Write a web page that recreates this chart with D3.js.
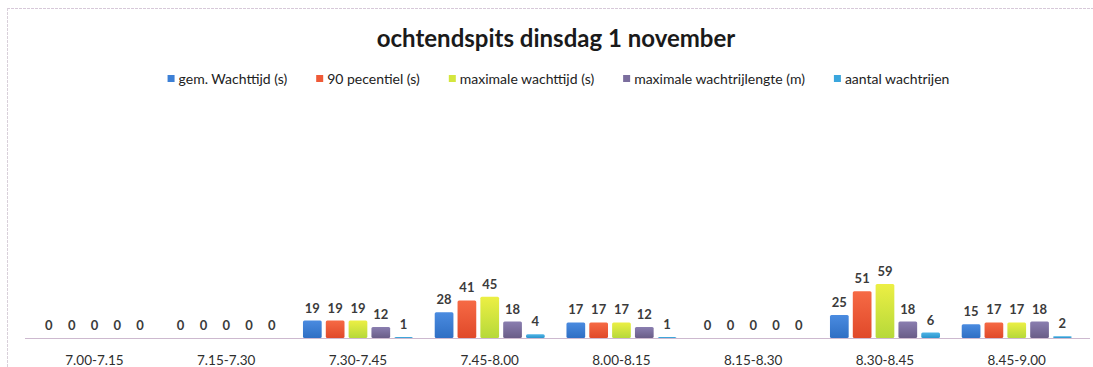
<!DOCTYPE html>
<html>
<head>
<meta charset="utf-8">
<script src="https://cdn.jsdelivr.net/npm/d3@7"></script>
<style>
  html, body { margin: 0; padding: 0; background: #fff; }
  svg { display: block; }
  text { font-family: Lato, "Open Sans", sans-serif; }
</style>
</head>
<body>
<svg id="chart" width="1093" height="367"></svg>
<script>
// Time slots on the x axis
const categories = ["7.00-7.15", "7.15-7.30", "7.30-7.45", "7.45-8.00", "8.00-8.15", "8.15-8.30", "8.30-8.45", "8.45-9.00"];

// Series names (legend order)
const seriesNames = ["gem. Wachttijd (s)", "90 pecentiel (s)", "maximale wachttijd (s)", "maximale wachtrijlengte (m)", "aantal wachtrijen"];

// Values per series, one per time slot
const gemWachttijd      = [0, 0, 19, 28, 17, 0, 25, 15];
const percentiel90      = [0, 0, 19, 41, 17, 0, 51, 17];
const maxWachttijd      = [0, 0, 19, 45, 17, 0, 59, 17];
const maxWachtrijlengte = [0, 0, 12, 18, 12, 0, 18, 18];
const aantalWachtrijen  = [0, 0, 1, 4, 1, 0, 6, 2];

const seriesValues = [gemWachttijd, percentiel90, maxWachttijd, maxWachtrijlengte, aantalWachtrijen];
const seriesColors = ["#3d80d6", "#ef5a37", "#d4e63e", "#7b6e9e", "#3aa6dd"];

const titleText = "ochtendspits dinsdag 1 november";

const svg = d3.select("#chart");
const W = 1093, H = 367;

// Gradients give the bars a soft, shaded fill
const defs = svg.append("defs");
const gradStops = [
  ["#4a8be0", "#2f6fc4"],
  ["#f66a45", "#e0492a"],
  ["#ecef44", "#b6d93a"],
  ["#8a7eb0", "#6a5d88"],
  ["#4fb4e6", "#2a94cc"]
];
gradStops.forEach((s, i) => {
  const g = defs.append("linearGradient")
    .attr("id", "grad" + i).attr("x1", 0).attr("y1", 0).attr("x2", 0).attr("y2", 1);
  g.append("stop").attr("offset", "0%").attr("stop-color", s[0]);
  g.append("stop").attr("offset", "100%").attr("stop-color", s[1]);
});

// Chart frame (faint dotted edges)
svg.append("line").attr("x1", 7).attr("x2", W).attr("y1", 8.5).attr("y2", 8.5)
  .attr("stroke", "#d7c9d9").attr("stroke-width", 1).attr("stroke-dasharray", "3,1");
svg.append("line").attr("x1", 7.5).attr("x2", 7.5).attr("y1", 8).attr("y2", H)
  .attr("stroke", "#d9d0da").attr("stroke-width", 1).attr("stroke-dasharray", "3,1");

// Title
svg.append("text")
  .attr("x", 556).attr("y", 47)
  .attr("text-anchor", "middle")
  .attr("font-size", 24).attr("font-weight", 700)
  .attr("fill", "#1a1a1a")
  .text(titleText);

// Scales
const x0 = d3.scaleBand()
  .domain(categories)
  .range([28.6, 1082.6])
  .paddingInner(0.165)
  .paddingOuter(0.0825);

const x1 = d3.scaleBand()
  .domain(d3.range(seriesNames.length))
  .range([0, x0.bandwidth()])
  .paddingInner(0.18);

const baseY = 338;
const y = d3.scaleLinear().domain([0, 260]).range([baseY, 100]);

// Bars
const groups = svg.append("g").selectAll("g")
  .data(categories)
  .join("g")
  .attr("transform", d => `translate(${x0(d)},0)`);

groups.selectAll("rect")
  .data((c, ci) => seriesValues.map((vals, si) => ({ si, v: vals[ci] })))
  .join("rect")
  .attr("x", d => x1(d.si))
  .attr("y", d => y(d.v))
  .attr("width", x1.bandwidth())
  .attr("height", d => baseY - y(d.v))
  .attr("rx", 1.5)
  .attr("fill", d => `url(#grad${d.si})`);

// Value labels above each bar
groups.selectAll("text")
  .data((c, ci) => seriesValues.map((vals, si) => ({ si, v: vals[ci] })))
  .join("text")
  .attr("x", d => x1(d.si) + x1.bandwidth() / 2)
  .attr("y", d => y(d.v) - 8)
  .attr("text-anchor", "middle")
  .attr("font-size", 13).attr("font-weight", 700)
  .attr("fill", "#3b3b3b")
  .text(d => d.v);

// Category axis baseline
svg.append("line")
  .attr("x1", 25).attr("x2", 1090).attr("y1", baseY + 0.5).attr("y2", baseY + 0.5)
  .attr("stroke", "#cdb9cf").attr("stroke-width", 1.2);

// Category axis labels
const xAxis = d3.axisBottom(x0).tickSize(0).tickPadding(0);
const axisG = svg.append("g").attr("transform", `translate(0,${baseY})`).call(xAxis);
axisG.select(".domain").remove();
axisG.selectAll("text")
  .attr("y", 27).attr("dy", 0)
  .attr("font-size", 13.5)
  .attr("font-family", "Lato, 'Open Sans', sans-serif")
  .attr("fill", "#2e2e2e");

// Legend, centred above the plot
const legend = svg.append("g").attr("transform", "translate(0,79)");
const items = legend.selectAll("g").data(seriesNames).join("g");
items.append("rect")
  .attr("x", 0).attr("y", -4).attr("width", 7).attr("height", 7)
  .attr("fill", (d, i) => seriesColors[i]);
items.append("text")
  .attr("x", 11).attr("y", 4.5)
  .attr("font-size", 14)
  .attr("fill", "#222")
  .text(d => d);
let cursor = 0;
const widths = [];
items.each(function () {
  const w = 11 + d3.select(this).select("text").node().getComputedTextLength();
  widths.push(w);
});
const gap = 29;
const total = d3.sum(widths) + gap * (widths.length - 1);
cursor = 558.5 - total / 2;
items.attr("transform", (d, i) => {
  const t = `translate(${cursor},0)`;
  cursor += widths[i] + gap;
  return t;
});
</script>
</body>
</html>
